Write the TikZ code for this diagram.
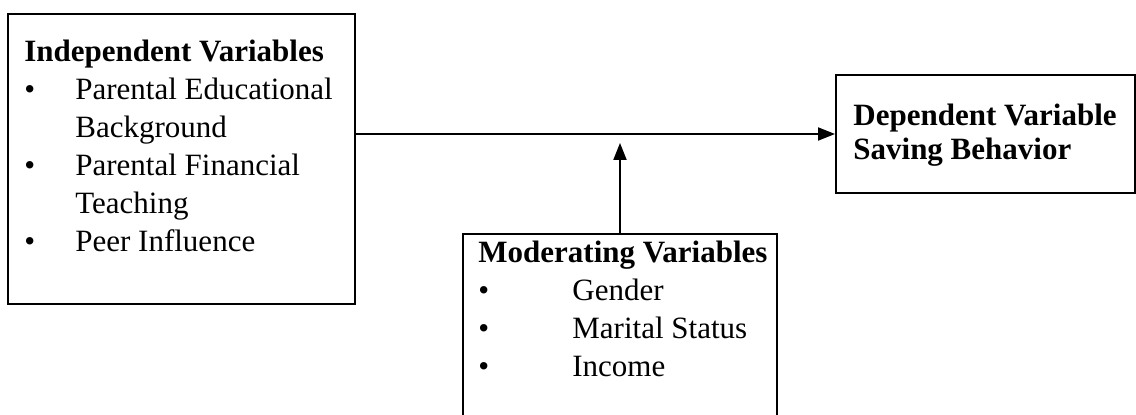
\documentclass[tikz,border=0pt]{standalone}
\usepackage{fontspec}
\setmainfont{Liberation Serif}
\usetikzlibrary{arrows.meta,positioning}

\newcommand{\blt}[1]{\makebox[#1][l]{\textbullet}}

\begin{document}
\begin{tikzpicture}[x=0.5pt,y=-0.5pt,
  box/.style={draw,line width=1pt,anchor=north west,inner sep=0pt},
  txt/.style={anchor=base west,inner sep=0pt,font=\fontsize{15.5}{19}\selectfont},
  link/.style={line width=1pt,-{Triangle[length=8.5pt,width=6.5pt]}}]
  \useasboundingbox (0,0) rectangle (1136,415);
  \clip (0,0) rectangle (1136,415);
% boxes
  \node[box,minimum width=173.5pt,minimum height=145pt] (ind) at (7,13)    {};
  \node[box,minimum width=149.5pt,minimum height=59pt]  (dep) at (835,74)  {};
  \node[box,minimum width=157pt,minimum height=150pt]   (mod) at (462,233) {};

% texts
  \node[txt] (indtxt) at (24,62) {\begin{tabular}[t]{@{}l@{}l@{}}
    \multicolumn{2}{@{}l@{}}{\textbf{Independent Variables}}\\
    \blt{25.5pt} & Parental Educational\\
                 & Background\\
    \blt{25.5pt} & Parental Financial\\
                 & Teaching\\
    \blt{25.5pt} & Peer Influence
  \end{tabular}};
  \node[txt,font=\fontsize{15.5}{17}\selectfont\bfseries] (deptxt) at (853,126) {\begin{tabular}[t]{@{}l@{}}
    Dependent Variable\\
    Saving Behavior
  \end{tabular}};
  \node[txt] (modtxt) at (478,263) {\begin{tabular}[t]{@{}l@{}l@{}}
    \multicolumn{2}{@{}l@{}}{\textbf{Moderating Variables}}\\
    \blt{47pt} & Gender\\
    \blt{47pt} & Marital Status\\
    \blt{47pt} & Income
  \end{tabular}};

% arrows
  \coordinate (meet) at (mod.north |- dep.west);
  \draw[link] (ind.east |- dep.west) -- (dep.west);
  \draw[link,shorten >=4.5pt] (mod.north) -- (meet);
\end{tikzpicture}
\end{document}
